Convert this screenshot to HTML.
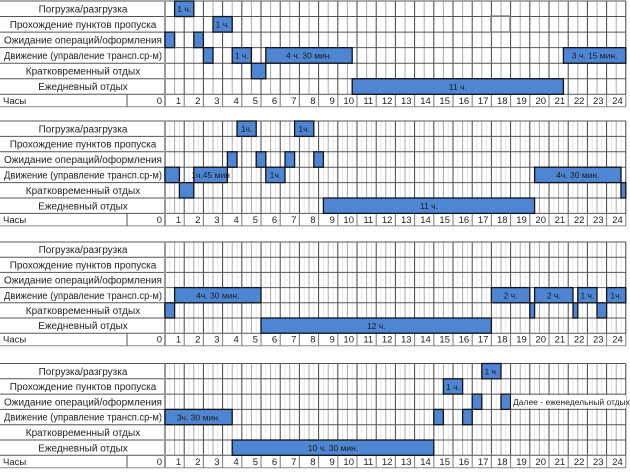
<!DOCTYPE html>
<html><head><meta charset="utf-8"><style>
html,body{margin:0;padding:0;background:#fff;}
svg{display:block;font-family:"Liberation Sans",sans-serif;}
</style></head><body>
<svg id="chart" width="630" height="472" viewBox="0 0 630 472" xmlns="http://www.w3.org/2000/svg"></svg>
<script>
const categories = ["Погрузка/разгрузка","Прохождение пунктов пропуска","Ожидание операций/оформления","Движение (управление трансп.ср-м)","Кратковременный отдых","Ежедневный отдых"];
const hourTicks = ["0","1","2","3","4","5","6","7","8","9","10","11","12","13","14","15","16","17","18","19","20","21","22","23","24"];
// segments: [rowIndex, startHour, endHour, label]
const day1Segments = [[0,0.5,1.5,"1 ч."],[1,2.5,3.5,"1 ч."],[2,0,0.5,""],[2,1.5,2,""],[3,2,2.5,""],[3,3.5,4.5,"1 ч."],[3,5.25,9.75,"4 ч.    30 мин."],[4,4.5,5.25,""],[5,9.75,20.75,"11 ч."],[3,20.75,24,"3 ч.    15 мин."]];
const day2Segments = [[0,3.75,4.75,"1ч."],[0,6.75,7.75,"1ч."],[2,3.25,3.75,""],[2,4.75,5.25,""],[2,6.25,6.75,""],[2,7.75,8.25,""],[3,0,0.75,""],[3,1.5,3.25,"1ч.45 мин"],[3,5.25,6.25,"1ч."],[3,19.25,23.75,"4ч.    30 мин."],[4,0.75,1.5,""],[4,23.75,24,""],[5,8.25,19.25,"11 ч."]];
const day3Segments = [[4,0,0.5,""],[3,0.5,5,"4ч.    30 мин."],[5,5,17,"12 ч."],[3,17,19,"2 ч."],[4,19,19.25,""],[3,19.25,21.25,"2 ч."],[4,21.25,21.5,""],[3,21.5,22.5,"1 ч."],[4,22.5,23,""],[3,23,24,"1ч."]];
const day4Segments = [[3,0,3.5,"3ч.    30 мин."],[5,3.5,14,"10 ч. 30 мин."],[3,14,14.5,""],[1,14.5,15.5,"1 ч."],[3,15.5,16,""],[2,16,16.5,""],[0,16.5,17.5,"1 ч."],[2,17.5,18,""]];
const allDays = [day1Segments, day2Segments, day3Segments, day4Segments];

const NS="http://www.w3.org/2000/svg";
const svg=document.getElementById('chart');
const X0=165, HW=19.2;
function x(h){return X0+h*HW;}
const panels=[{top:1,rh:15.55},{top:121,rh:15.4},{top:242,rh:15.2},{top:363.5,rh:15.3}];
const HDR=12.5;
function mk(tag,attrs,parent){const e=document.createElementNS(NS,tag);for(const k in attrs)e.setAttribute(k,attrs[k]);(parent||svg).appendChild(e);return e;}

panels.forEach((p,pi)=>{
  const g=mk('g',{});
  
  
  const bottom=p.top+6*p.rh;
  // fine vertical grid
  for(let q=0;q<=96;q++){
    const xx=x(q/4);
    let col='#e2e2e2', w=0.8;
    if(q%4===0){col='#444';w=1;} else if(q%2===0){col='#aaa';w=1;}
    if(pi===0 && q%2!==0) continue;
    mk('line',{x1:xx,y1:p.top,x2:xx,y2:bottom,stroke:col,'stroke-width':w},g);
  }
  // horizontal lines
  for(let r=0;r<=6;r++){
    const yy=p.top+r*p.rh;
    mk('line',{x1:0,y1:yy,x2:626,y2:yy,stroke:'#555','stroke-width':1},g);
  }
  mk('line',{x1:0,y1:bottom+HDR,x2:626,y2:bottom+HDR,stroke:'#888','stroke-width':1},g);
  mk('line',{x1:X0,y1:p.top,x2:X0,y2:bottom+HDR,stroke:'#999','stroke-width':2},g);
  mk('line',{x1:127,y1:bottom,x2:127,y2:bottom+HDR,stroke:'#555','stroke-width':1},g);
  // category labels
  categories.forEach((c,i)=>{
    const t=mk('text',{x:83,y:p.top+i*p.rh+p.rh/2+3.6,'text-anchor':'middle','font-size':10,fill:'#222'},g);
    if(i===3){t.setAttribute('textLength','158');t.setAttribute('lengthAdjust','spacingAndGlyphs');}
    
    
    t.textContent=c;
  });
  // header row
  const hl=mk('text',{x:3,y:bottom+HDR-3,'font-size':9.5,fill:'#222'},g);
  
  
  hl.textContent='Часы';
  hourTicks.forEach((lab,k)=>{
    if(k>0) mk('line',{x1:x(k),y1:bottom,x2:x(k),y2:bottom+HDR,stroke:'#777','stroke-width':1},g);
    const t=mk('text',{x:(k===0?X0:x(k))-3,y:bottom+HDR-3,'text-anchor':'end','font-size':9.5,fill:'#222'},g);
    
    
    t.textContent=lab;
  });
  // bars
  allDays[pi].forEach(s=>{
    const r=mk('rect',{x:x(s[1]),y:p.top+s[0]*p.rh,width:x(s[2])-x(s[1]),height:p.rh,fill:'#4f86d4',stroke:'#111','stroke-width':1.3},g);
    
    
  });
  allDays[pi].forEach(s=>{
    if(!s[3])return;
    const t=mk('text',{x:(x(s[1])+x(s[2]))/2,y:p.top+s[0]*p.rh+p.rh/2+3.3,'text-anchor':'middle','font-size':8.5,fill:'#1a1a1a','xml:space':'preserve'},g);
    
    
    t.textContent=s[3];
  });
});
// selected cell in panel 1
const sel=mk('rect',{x:491,y:16,width:19,height:16,fill:'none',stroke:'#888','stroke-width':1.5});


// note in panel 4
const p4=panels[3];
const nb=mk('rect',{x:511,y:p4.top+2*p4.rh+1,width:115,height:p4.rh-2,fill:'#fff'});


const nt=mk('text',{x:513,y:p4.top+2*p4.rh+p4.rh/2+3.3,'font-size':8.5,fill:'#222'});


nt.textContent='Далее - еженедельный отдых';
</script>
</body></html>
